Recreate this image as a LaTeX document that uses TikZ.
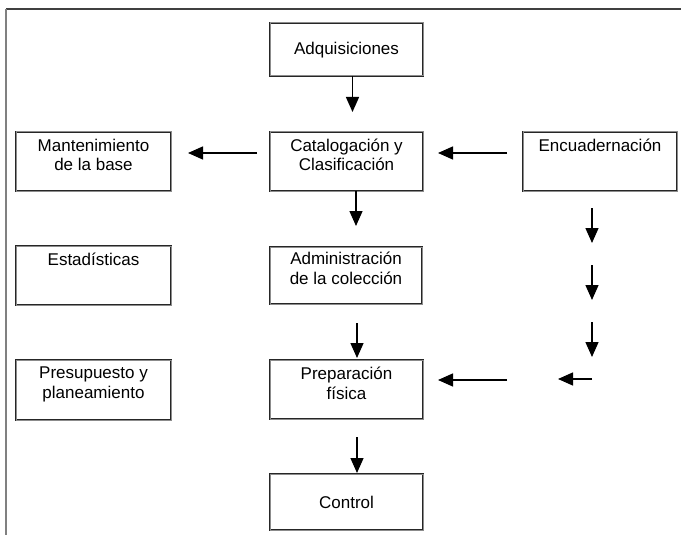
\documentclass[tikz,border=0pt]{standalone}
\usepackage{fontspec}
\setmainfont{Liberation Sans}
\usetikzlibrary{arrows.meta}
\begin{document}
\begin{tikzpicture}[x=1pt,y=-1pt,
  box/.style={draw=black!85, double=black!45, double distance=1pt, line width=0.9pt,
    rectangle, inner sep=0pt, outer sep=0pt, fill=white},
  txt/.style={inner sep=0pt, anchor=base, font=\fontsize{17pt}{20pt}\selectfont},
  arr/.style={line width=1.4pt, -{Triangle[length=15pt,width=13pt]}},
  frameline/.style={line width=1.6pt}]
\useasboundingbox (0,0) rectangle (681,535);
% frame
\coordinate (fTL) at (6,9);
\coordinate (fTR) at (681,9);
\coordinate (fBL) at (6,535);
\draw[frameline, black!75] (fTL) -- (fTR);
\draw[frameline, gray] (fTL) -- (fBL);

% boxes
\node[box, minimum width=153pt, minimum height=53pt] (adq) at (346.5,49.5) {};
\node[box, minimum width=153pt, minimum height=59pt] (cat) at (346.5,161.5) {};
\node[box, minimum width=155pt, minimum height=59pt] (man) at (93.5,161.5) {};
\node[box, minimum width=154pt, minimum height=59pt] (enc) at (600,161.5) {};
\node[box, minimum width=155pt, minimum height=59pt] (est) at (93.5,275.5) {};
\node[box, minimum width=152pt, minimum height=57pt] (adm) at (346,275.5) {};
\node[box, minimum width=153pt, minimum height=59pt] (pre) at (346.5,389.5) {};
\node[box, minimum width=153pt, minimum height=56pt] (con) at (346.5,502) {};
\node[box, minimum width=155pt, minimum height=60pt] (pres) at (93.5,390) {};

% texts
\node[txt] (adq-t) at (346.5,55) {Adquisiciones};
\node[txt] (cat-t1) at (346.5,151) {Catalogación y};
\node[txt] (cat-t2) at (346.5,171) {Clasificación};
\node[txt] (man-t1) at (93.5,151) {Mantenimiento};
\node[txt] (man-t2) at (93.5,171) {de la base};
\node[txt] (enc-t) at (600,151) {Encuadernación};
\node[txt] (est-t) at (93.5,265) {Estadísticas};
\node[txt] (adm-t1) at (346,264) {Administración};
\node[txt] (adm-t2) at (346,284) {de la colección};
\node[txt] (pre-t1) at (346.5,379) {Preparación};
\node[txt] (pre-t2) at (346.5,399) {física};
\node[txt] (con-t) at (346.5,508) {Control};
\node[txt] (pres-t1) at (93.5,378) {Presupuesto y};
\node[txt] (pres-t2) at (93.5,398) {planeamiento};

% arrow coordinates
\coordinate (a1) at (352.5,112);
\coordinate (a2) at (356,226);
\coordinate (a3) at (357,358);
\coordinate (a4) at (357,473);
\coordinate (hmS) at (257,153);
\coordinate (hmT) at (188,153);
\coordinate (heS) at (507,153);
\coordinate (heT) at (438,153);
\coordinate (r1S) at (592,208);
\coordinate (r1T) at (592,243);
\coordinate (r2S) at (592,265);
\coordinate (r2T) at (592,300);
\coordinate (r3S) at (592,322);
\coordinate (r3T) at (592,357);
\coordinate (sS) at (592,379);
\coordinate (sT) at (558,379);
\coordinate (lS) at (507,380);
\coordinate (lT) at (438,380);
\coordinate (a3S) at (357,323);
\coordinate (a4S) at (357,437);

% arrows
\draw[arr] (a1 |- adq.south) -- (a1);
\draw[arr] (a2 |- cat.south) -- (a2);
\draw[arr] (a3S) -- (a3);
\draw[arr] (a4S) -- (a4);
\draw[arr] (hmS) -- (hmT);
\draw[arr] (heS) -- (heT);
\draw[arr] (r1S) -- (r1T);
\draw[arr] (r2S) -- (r2T);
\draw[arr] (r3S) -- (r3T);
\draw[arr] (sS) -- (sT);
\draw[arr] (lS) -- (lT);
\end{tikzpicture}
\end{document}
